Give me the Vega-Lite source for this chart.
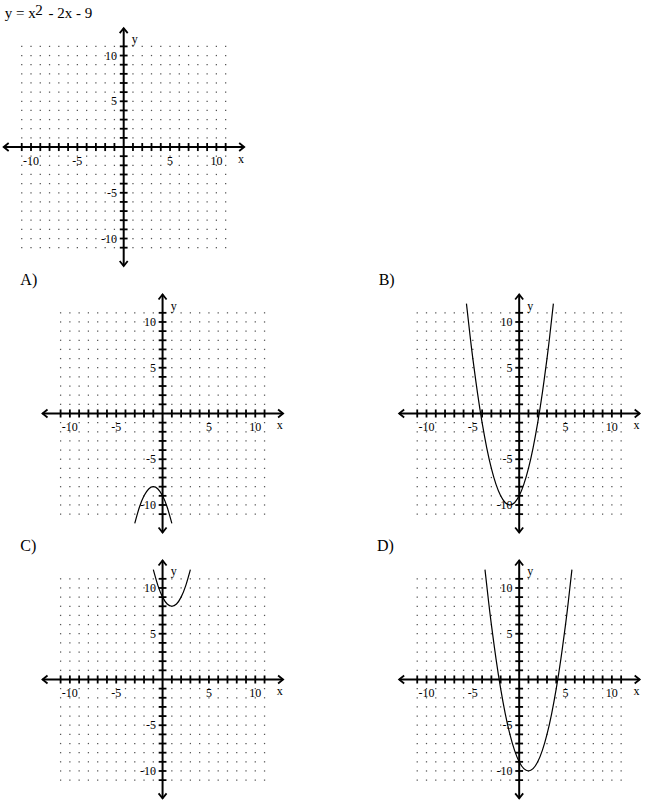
{
  "$schema": "https://vega.github.io/schema/vega-lite/v6.json",
  "background": "white",
  "padding": 0,
  "spacing": 0,
  "config": {
    "view": {"stroke": null},
    "axis": {"disable": true},
    "text": {"font": "Liberation Serif", "color": "black"}
  },
  "datasets": {
    "grid": [
      {"y": 11, "xs": [-11,-10,-9,-8,-7,-6,-5,-4,-3,-2,-1,0,1,2,3,4,5,6,7,8,9,10,11]},
      {"y": 10, "xs": [-11,-10,-9,-8,-7,-6,-5,-4,-3,-2,-1,0,1,2,3,4,5,6,7,8,9,10,11]},
      {"y": 9, "xs": [-11,-10,-9,-8,-7,-6,-5,-4,-3,-2,-1,0,1,2,3,4,5,6,7,8,9,10,11]},
      {"y": 8, "xs": [-11,-10,-9,-8,-7,-6,-5,-4,-3,-2,-1,0,1,2,3,4,5,6,7,8,9,10,11]},
      {"y": 7, "xs": [-11,-10,-9,-8,-7,-6,-5,-4,-3,-2,-1,0,1,2,3,4,5,6,7,8,9,10,11]},
      {"y": 6, "xs": [-11,-10,-9,-8,-7,-6,-5,-4,-3,-2,-1,0,1,2,3,4,5,6,7,8,9,10,11]},
      {"y": 5, "xs": [-11,-10,-9,-8,-7,-6,-5,-4,-3,-2,-1,0,1,2,3,4,5,6,7,8,9,10,11]},
      {"y": 4, "xs": [-11,-10,-9,-8,-7,-6,-5,-4,-3,-2,-1,0,1,2,3,4,5,6,7,8,9,10,11]},
      {"y": 3, "xs": [-11,-10,-9,-8,-7,-6,-5,-4,-3,-2,-1,0,1,2,3,4,5,6,7,8,9,10,11]},
      {"y": 2, "xs": [-11,-10,-9,-8,-7,-6,-5,-4,-3,-2,-1,0,1,2,3,4,5,6,7,8,9,10,11]},
      {"y": 1, "xs": [-11,-10,-9,-8,-7,-6,-5,-4,-3,-2,-1,0,1,2,3,4,5,6,7,8,9,10,11]},
      {"y": 0, "xs": [-11,-10,-9,-8,-7,-6,-5,-4,-3,-2,-1,0,1,2,3,4,5,6,7,8,9,10,11]},
      {"y": -1, "xs": [-11,-10,-9,-8,-7,-6,-5,-4,-3,-2,-1,0,1,2,3,4,5,6,7,8,9,10,11]},
      {"y": -2, "xs": [-11,-10,-9,-8,-7,-6,-5,-4,-3,-2,-1,0,1,2,3,4,5,6,7,8,9,10,11]},
      {"y": -3, "xs": [-11,-10,-9,-8,-7,-6,-5,-4,-3,-2,-1,0,1,2,3,4,5,6,7,8,9,10,11]},
      {"y": -4, "xs": [-11,-10,-9,-8,-7,-6,-5,-4,-3,-2,-1,0,1,2,3,4,5,6,7,8,9,10,11]},
      {"y": -5, "xs": [-11,-10,-9,-8,-7,-6,-5,-4,-3,-2,-1,0,1,2,3,4,5,6,7,8,9,10,11]},
      {"y": -6, "xs": [-11,-10,-9,-8,-7,-6,-5,-4,-3,-2,-1,0,1,2,3,4,5,6,7,8,9,10,11]},
      {"y": -7, "xs": [-11,-10,-9,-8,-7,-6,-5,-4,-3,-2,-1,0,1,2,3,4,5,6,7,8,9,10,11]},
      {"y": -8, "xs": [-11,-10,-9,-8,-7,-6,-5,-4,-3,-2,-1,0,1,2,3,4,5,6,7,8,9,10,11]},
      {"y": -9, "xs": [-11,-10,-9,-8,-7,-6,-5,-4,-3,-2,-1,0,1,2,3,4,5,6,7,8,9,10,11]},
      {"y": -10, "xs": [-11,-10,-9,-8,-7,-6,-5,-4,-3,-2,-1,0,1,2,3,4,5,6,7,8,9,10,11]},
      {"y": -11, "xs": [-11,-10,-9,-8,-7,-6,-5,-4,-3,-2,-1,0,1,2,3,4,5,6,7,8,9,10,11]}
    ],
    "ticks": [
      {"t": -11}, {"t": -10}, {"t": -9}, {"t": -8}, {"t": -7}, {"t": -6}, {"t": -5}, {"t": -4}, {"t": -3}, {"t": -2}, {"t": -1},
      {"t": 1}, {"t": 2}, {"t": 3}, {"t": 4}, {"t": 5}, {"t": 6}, {"t": 7}, {"t": 8}, {"t": 9}, {"t": 10}, {"t": 11}
    ],
    "axes": [
      {"x": -12.95, "x2": 13, "y": 0, "y2": 0},
      {"x": 0, "x2": 0, "y": -13, "y2": 13}
    ],
    "arrows": [
      {"x": 13, "y": 0, "dir": "right"},
      {"x": -12.95, "y": 0, "dir": "left"},
      {"x": 0, "y": 13, "dir": "up"},
      {"x": 0, "y": -13, "dir": "down"}
    ],
    "labels": [
      {"v": -10, "lab": "-10"}, {"v": -5, "lab": "-5"}, {"v": 5, "lab": "5"}, {"v": 10, "lab": "10"}
    ],
    "names": [
      {"x": 12.65, "y": -1.3, "lab": "x"},
      {"x": 1.2, "y": 11.8, "lab": "y"}
    ],
    "title": [
      {"x": -12.84, "y": 14.07, "lab": "y = x"},
      {"x": -9.54, "y": 14.43, "lab": "2"},
      {"x": -8.1, "y": 14.07, "lab": "- 2x - 9"}
    ],
    "letters": [
      {"p": "A", "x": -15.34, "y": 14.05, "lab": "A)"},
      {"p": "B", "x": -15.16, "y": 14.05, "lab": "B)"},
      {"p": "C", "x": -15.34, "y": 14.05, "lab": "C)"},
      {"p": "D", "x": -15.34, "y": 14.05, "lab": "D)"}
    ],
    "curves": [
      {"p": "A", "x": -3, "y": -12}, {"p": "A", "x": -2.5, "y": -10.25}, {"p": "A", "x": -2, "y": -9},
      {"p": "A", "x": -1.5, "y": -8.25}, {"p": "A", "x": -1, "y": -8}, {"p": "A", "x": -0.5, "y": -8.25},
      {"p": "A", "x": 0, "y": -9}, {"p": "A", "x": 0.5, "y": -10.25}, {"p": "A", "x": 1, "y": -12},
      {"p": "B", "x": -5.69, "y": 12}, {"p": "B", "x": -5.3, "y": 8.49}, {"p": "B", "x": -5, "y": 6},
      {"p": "B", "x": -4.5, "y": 2.25}, {"p": "B", "x": -4, "y": -1}, {"p": "B", "x": -3.5, "y": -3.75},
      {"p": "B", "x": -3, "y": -6}, {"p": "B", "x": -2.5, "y": -7.75}, {"p": "B", "x": -2, "y": -9},
      {"p": "B", "x": -1.5, "y": -9.75}, {"p": "B", "x": -1, "y": -10}, {"p": "B", "x": -0.5, "y": -9.75},
      {"p": "B", "x": 0, "y": -9}, {"p": "B", "x": 0.5, "y": -7.75}, {"p": "B", "x": 1, "y": -6},
      {"p": "B", "x": 1.5, "y": -3.75}, {"p": "B", "x": 2, "y": -1}, {"p": "B", "x": 2.5, "y": 2.25},
      {"p": "B", "x": 3, "y": 6}, {"p": "B", "x": 3.3, "y": 8.49}, {"p": "B", "x": 3.69, "y": 12},
      {"p": "C", "x": -1, "y": 12}, {"p": "C", "x": -0.5, "y": 10.25}, {"p": "C", "x": 0, "y": 9},
      {"p": "C", "x": 0.5, "y": 8.25}, {"p": "C", "x": 1, "y": 8}, {"p": "C", "x": 1.5, "y": 8.25},
      {"p": "C", "x": 2, "y": 9}, {"p": "C", "x": 2.5, "y": 10.25}, {"p": "C", "x": 3, "y": 12},
      {"p": "D", "x": -3.69, "y": 12}, {"p": "D", "x": -3.3, "y": 8.49}, {"p": "D", "x": -3, "y": 6},
      {"p": "D", "x": -2.5, "y": 2.25}, {"p": "D", "x": -2, "y": -1}, {"p": "D", "x": -1.5, "y": -3.75},
      {"p": "D", "x": -1, "y": -6}, {"p": "D", "x": -0.5, "y": -7.75}, {"p": "D", "x": 0, "y": -9},
      {"p": "D", "x": 0.5, "y": -9.75}, {"p": "D", "x": 1, "y": -10}, {"p": "D", "x": 1.5, "y": -9.75},
      {"p": "D", "x": 2, "y": -9}, {"p": "D", "x": 2.5, "y": -7.75}, {"p": "D", "x": 3, "y": -6},
      {"p": "D", "x": 3.5, "y": -3.75}, {"p": "D", "x": 4, "y": -1}, {"p": "D", "x": 4.5, "y": 2.25},
      {"p": "D", "x": 5, "y": 6}, {"p": "D", "x": 5.3, "y": 8.49}, {"p": "D", "x": 5.69, "y": 12}
    ]
  },
  "resolve": {"scale": {"x": "independent", "y": "independent"}},
  "vconcat": [
    {
      "width": 370,
      "height": 270,
      "layer": [
        {"data": {"name": "grid"}, "transform": [{"flatten": ["xs"]}],
         "mark": {"type": "square", "size": 1.6, "color": "#555", "opacity": 1},
         "encoding": {
           "x": {"field": "xs", "type": "quantitative", "scale": {"domain": [-13.13, 26.79], "nice": false, "zero": false}},
           "y": {"field": "y", "type": "quantitative", "scale": {"domain": [-13.44, 16.07], "nice": false, "zero": false}}}},
        {"data": {"name": "axes"}, "mark": {"type": "rule", "color": "black", "strokeWidth": 2},
         "encoding": {"x": {"field": "x", "type": "quantitative"}, "x2": {"field": "x2"}, "y": {"field": "y", "type": "quantitative"}, "y2": {"field": "y2"}}},
        {"data": {"name": "ticks"}, "mark": {"type": "rule", "color": "black", "strokeWidth": 1.8},
         "encoding": {"x": {"field": "t", "type": "quantitative"}, "y": {"datum": -0.44}, "y2": {"datum": 0.44}}},
        {"data": {"name": "ticks"}, "mark": {"type": "rule", "color": "black", "strokeWidth": 1.8},
         "encoding": {"y": {"field": "t", "type": "quantitative"}, "x": {"datum": -0.42}, "x2": {"datum": 0.42}}},
        {"data": {"name": "arrows"}, "mark": {"type": "point", "filled": false, "size": 64, "strokeWidth": 1.8, "color": "black", "opacity": 1},
         "encoding": {"x": {"field": "x", "type": "quantitative"}, "y": {"field": "y", "type": "quantitative"},
           "shape": {"field": "dir", "type": "nominal", "legend": null, "scale": {"domain": ["right", "left", "up", "down"], "range": ["M-1.25,-1L0,0L-1.25,1", "M1.25,-1L0,0L1.25,1", "M-1,1.25L0,0L1,1.25", "M-1,-1.25L0,0L1,-1.25"]}}}},
        {"data": {"name": "labels"}, "mark": {"type": "text", "fontSize": 12, "color": "black", "align": "center", "baseline": "middle"},
         "encoding": {"x": {"field": "v", "type": "quantitative"}, "y": {"datum": -1.5}, "text": {"field": "lab", "type": "nominal"}}},
        {"data": {"name": "labels"}, "mark": {"type": "text", "fontSize": 12, "color": "black", "align": "right", "baseline": "middle"},
         "encoding": {"y": {"field": "v", "type": "quantitative"}, "x": {"datum": -0.72}, "text": {"field": "lab", "type": "nominal"}}},
        {"data": {"name": "names"}, "mark": {"type": "text", "fontSize": 12, "color": "black", "align": "center", "baseline": "middle"},
         "encoding": {"x": {"field": "x", "type": "quantitative"}, "y": {"field": "y", "type": "quantitative"}, "text": {"field": "lab", "type": "nominal"}}},
        {"data": {"name": "title"}, "mark": {"type": "text", "fontSize": 15, "color": "black", "align": "left", "baseline": "alphabetic"},
         "encoding": {"x": {"field": "x", "type": "quantitative"}, "y": {"field": "y", "type": "quantitative"}, "text": {"field": "lab", "type": "nominal"}}}
      ]
    },
    {
      "hconcat": [
        {
          "width": 370,
          "height": 265,
          "layer": [
            {"data": {"name": "grid"}, "transform": [{"flatten": ["xs"]}],
             "mark": {"type": "square", "size": 1.6, "color": "#555", "opacity": 1},
             "encoding": {
               "x": {"field": "xs", "type": "quantitative", "scale": {"domain": [-17.32, 22.59], "nice": false, "zero": false}},
               "y": {"field": "y", "type": "quantitative", "scale": {"domain": [-13.28, 15.68], "nice": false, "zero": false}}}},
            {"data": {"name": "curves"}, "transform": [{"filter": "datum.p == 'A'"}],
             "mark": {"type": "line", "interpolate": "natural", "color": "black", "strokeWidth": 1.2},
             "encoding": {"x": {"field": "x", "type": "quantitative"}, "y": {"field": "y", "type": "quantitative"}}},
            {"data": {"name": "axes"}, "mark": {"type": "rule", "color": "black", "strokeWidth": 2},
             "encoding": {"x": {"field": "x", "type": "quantitative"}, "x2": {"field": "x2"}, "y": {"field": "y", "type": "quantitative"}, "y2": {"field": "y2"}}},
            {"data": {"name": "ticks"}, "mark": {"type": "rule", "color": "black", "strokeWidth": 1.8},
             "encoding": {"x": {"field": "t", "type": "quantitative"}, "y": {"datum": -0.44}, "y2": {"datum": 0.44}}},
            {"data": {"name": "ticks"}, "mark": {"type": "rule", "color": "black", "strokeWidth": 1.8},
             "encoding": {"y": {"field": "t", "type": "quantitative"}, "x": {"datum": -0.42}, "x2": {"datum": 0.42}}},
            {"data": {"name": "arrows"}, "mark": {"type": "point", "filled": false, "size": 64, "strokeWidth": 1.8, "color": "black", "opacity": 1},
             "encoding": {"x": {"field": "x", "type": "quantitative"}, "y": {"field": "y", "type": "quantitative"},
               "shape": {"field": "dir", "type": "nominal", "legend": null, "scale": {"domain": ["right", "left", "up", "down"], "range": ["M-1.25,-1L0,0L-1.25,1", "M1.25,-1L0,0L1.25,1", "M-1,1.25L0,0L1,1.25", "M-1,-1.25L0,0L1,-1.25"]}}}},
            {"data": {"name": "labels"}, "mark": {"type": "text", "fontSize": 12, "color": "black", "align": "center", "baseline": "middle"},
             "encoding": {"x": {"field": "v", "type": "quantitative"}, "y": {"datum": -1.5}, "text": {"field": "lab", "type": "nominal"}}},
            {"data": {"name": "labels"}, "mark": {"type": "text", "fontSize": 12, "color": "black", "align": "right", "baseline": "middle"},
             "encoding": {"y": {"field": "v", "type": "quantitative"}, "x": {"datum": -0.72}, "text": {"field": "lab", "type": "nominal"}}},
            {"data": {"name": "names"}, "mark": {"type": "text", "fontSize": 12, "color": "black", "align": "center", "baseline": "middle"},
             "encoding": {"x": {"field": "x", "type": "quantitative"}, "y": {"field": "y", "type": "quantitative"}, "text": {"field": "lab", "type": "nominal"}}},
            {"data": {"name": "letters"}, "transform": [{"filter": "datum.p == 'A'"}], "mark": {"type": "text", "fontSize": 16, "color": "black", "align": "left", "baseline": "alphabetic"},
             "encoding": {"x": {"field": "x", "type": "quantitative"}, "y": {"field": "y", "type": "quantitative"}, "text": {"field": "lab", "type": "nominal"}}}
          ]
        },
        {
          "width": 280,
          "height": 265,
          "layer": [
            {"data": {"name": "grid"}, "transform": [{"flatten": ["xs"]}],
             "mark": {"type": "square", "size": 1.6, "color": "#555", "opacity": 1},
             "encoding": {
               "x": {"field": "xs", "type": "quantitative", "scale": {"domain": [-15.88, 14.33], "nice": false, "zero": false}},
               "y": {"field": "y", "type": "quantitative", "scale": {"domain": [-13.28, 15.68], "nice": false, "zero": false}}}},
            {"data": {"name": "curves"}, "transform": [{"filter": "datum.p == 'B'"}],
             "mark": {"type": "line", "interpolate": "natural", "color": "black", "strokeWidth": 1.2},
             "encoding": {"x": {"field": "x", "type": "quantitative"}, "y": {"field": "y", "type": "quantitative"}}},
            {"data": {"name": "axes"}, "mark": {"type": "rule", "color": "black", "strokeWidth": 2},
             "encoding": {"x": {"field": "x", "type": "quantitative"}, "x2": {"field": "x2"}, "y": {"field": "y", "type": "quantitative"}, "y2": {"field": "y2"}}},
            {"data": {"name": "ticks"}, "mark": {"type": "rule", "color": "black", "strokeWidth": 1.8},
             "encoding": {"x": {"field": "t", "type": "quantitative"}, "y": {"datum": -0.44}, "y2": {"datum": 0.44}}},
            {"data": {"name": "ticks"}, "mark": {"type": "rule", "color": "black", "strokeWidth": 1.8},
             "encoding": {"y": {"field": "t", "type": "quantitative"}, "x": {"datum": -0.42}, "x2": {"datum": 0.42}}},
            {"data": {"name": "arrows"}, "mark": {"type": "point", "filled": false, "size": 64, "strokeWidth": 1.8, "color": "black", "opacity": 1},
             "encoding": {"x": {"field": "x", "type": "quantitative"}, "y": {"field": "y", "type": "quantitative"},
               "shape": {"field": "dir", "type": "nominal", "legend": null, "scale": {"domain": ["right", "left", "up", "down"], "range": ["M-1.25,-1L0,0L-1.25,1", "M1.25,-1L0,0L1.25,1", "M-1,1.25L0,0L1,1.25", "M-1,-1.25L0,0L1,-1.25"]}}}},
            {"data": {"name": "labels"}, "mark": {"type": "text", "fontSize": 12, "color": "black", "align": "center", "baseline": "middle"},
             "encoding": {"x": {"field": "v", "type": "quantitative"}, "y": {"datum": -1.5}, "text": {"field": "lab", "type": "nominal"}}},
            {"data": {"name": "labels"}, "mark": {"type": "text", "fontSize": 12, "color": "black", "align": "right", "baseline": "middle"},
             "encoding": {"y": {"field": "v", "type": "quantitative"}, "x": {"datum": -0.72}, "text": {"field": "lab", "type": "nominal"}}},
            {"data": {"name": "names"}, "mark": {"type": "text", "fontSize": 12, "color": "black", "align": "center", "baseline": "middle"},
             "encoding": {"x": {"field": "x", "type": "quantitative"}, "y": {"field": "y", "type": "quantitative"}, "text": {"field": "lab", "type": "nominal"}}},
            {"data": {"name": "letters"}, "transform": [{"filter": "datum.p == 'B'"}], "mark": {"type": "text", "fontSize": 16, "color": "black", "align": "left", "baseline": "alphabetic"},
             "encoding": {"x": {"field": "x", "type": "quantitative"}, "y": {"field": "y", "type": "quantitative"}, "text": {"field": "lab", "type": "nominal"}}}
          ]
        }
      ],
      "spacing": 0,
      "resolve": {"scale": {"x": "independent", "y": "independent"}}
    },
    {
      "hconcat": [
        {
          "width": 370,
          "height": 265,
          "layer": [
            {"data": {"name": "grid"}, "transform": [{"flatten": ["xs"]}],
             "mark": {"type": "square", "size": 1.6, "color": "#555", "opacity": 1},
             "encoding": {
               "x": {"field": "xs", "type": "quantitative", "scale": {"domain": [-17.32, 22.59], "nice": false, "zero": false}},
               "y": {"field": "y", "type": "quantitative", "scale": {"domain": [-13.39, 15.57], "nice": false, "zero": false}}}},
            {"data": {"name": "curves"}, "transform": [{"filter": "datum.p == 'C'"}],
             "mark": {"type": "line", "interpolate": "natural", "color": "black", "strokeWidth": 1.2},
             "encoding": {"x": {"field": "x", "type": "quantitative"}, "y": {"field": "y", "type": "quantitative"}}},
            {"data": {"name": "axes"}, "mark": {"type": "rule", "color": "black", "strokeWidth": 2},
             "encoding": {"x": {"field": "x", "type": "quantitative"}, "x2": {"field": "x2"}, "y": {"field": "y", "type": "quantitative"}, "y2": {"field": "y2"}}},
            {"data": {"name": "ticks"}, "mark": {"type": "rule", "color": "black", "strokeWidth": 1.8},
             "encoding": {"x": {"field": "t", "type": "quantitative"}, "y": {"datum": -0.44}, "y2": {"datum": 0.44}}},
            {"data": {"name": "ticks"}, "mark": {"type": "rule", "color": "black", "strokeWidth": 1.8},
             "encoding": {"y": {"field": "t", "type": "quantitative"}, "x": {"datum": -0.42}, "x2": {"datum": 0.42}}},
            {"data": {"name": "arrows"}, "mark": {"type": "point", "filled": false, "size": 64, "strokeWidth": 1.8, "color": "black", "opacity": 1},
             "encoding": {"x": {"field": "x", "type": "quantitative"}, "y": {"field": "y", "type": "quantitative"},
               "shape": {"field": "dir", "type": "nominal", "legend": null, "scale": {"domain": ["right", "left", "up", "down"], "range": ["M-1.25,-1L0,0L-1.25,1", "M1.25,-1L0,0L1.25,1", "M-1,1.25L0,0L1,1.25", "M-1,-1.25L0,0L1,-1.25"]}}}},
            {"data": {"name": "labels"}, "mark": {"type": "text", "fontSize": 12, "color": "black", "align": "center", "baseline": "middle"},
             "encoding": {"x": {"field": "v", "type": "quantitative"}, "y": {"datum": -1.5}, "text": {"field": "lab", "type": "nominal"}}},
            {"data": {"name": "labels"}, "mark": {"type": "text", "fontSize": 12, "color": "black", "align": "right", "baseline": "middle"},
             "encoding": {"y": {"field": "v", "type": "quantitative"}, "x": {"datum": -0.72}, "text": {"field": "lab", "type": "nominal"}}},
            {"data": {"name": "names"}, "mark": {"type": "text", "fontSize": 12, "color": "black", "align": "center", "baseline": "middle"},
             "encoding": {"x": {"field": "x", "type": "quantitative"}, "y": {"field": "y", "type": "quantitative"}, "text": {"field": "lab", "type": "nominal"}}},
            {"data": {"name": "letters"}, "transform": [{"filter": "datum.p == 'C'"}], "mark": {"type": "text", "fontSize": 16, "color": "black", "align": "left", "baseline": "alphabetic"},
             "encoding": {"x": {"field": "x", "type": "quantitative"}, "y": {"field": "y", "type": "quantitative"}, "text": {"field": "lab", "type": "nominal"}}}
          ]
        },
        {
          "width": 280,
          "height": 265,
          "layer": [
            {"data": {"name": "grid"}, "transform": [{"flatten": ["xs"]}],
             "mark": {"type": "square", "size": 1.6, "color": "#555", "opacity": 1},
             "encoding": {
               "x": {"field": "xs", "type": "quantitative", "scale": {"domain": [-15.88, 14.33], "nice": false, "zero": false}},
               "y": {"field": "y", "type": "quantitative", "scale": {"domain": [-13.39, 15.57], "nice": false, "zero": false}}}},
            {"data": {"name": "curves"}, "transform": [{"filter": "datum.p == 'D'"}],
             "mark": {"type": "line", "interpolate": "natural", "color": "black", "strokeWidth": 1.2},
             "encoding": {"x": {"field": "x", "type": "quantitative"}, "y": {"field": "y", "type": "quantitative"}}},
            {"data": {"name": "axes"}, "mark": {"type": "rule", "color": "black", "strokeWidth": 2},
             "encoding": {"x": {"field": "x", "type": "quantitative"}, "x2": {"field": "x2"}, "y": {"field": "y", "type": "quantitative"}, "y2": {"field": "y2"}}},
            {"data": {"name": "ticks"}, "mark": {"type": "rule", "color": "black", "strokeWidth": 1.8},
             "encoding": {"x": {"field": "t", "type": "quantitative"}, "y": {"datum": -0.44}, "y2": {"datum": 0.44}}},
            {"data": {"name": "ticks"}, "mark": {"type": "rule", "color": "black", "strokeWidth": 1.8},
             "encoding": {"y": {"field": "t", "type": "quantitative"}, "x": {"datum": -0.42}, "x2": {"datum": 0.42}}},
            {"data": {"name": "arrows"}, "mark": {"type": "point", "filled": false, "size": 64, "strokeWidth": 1.8, "color": "black", "opacity": 1},
             "encoding": {"x": {"field": "x", "type": "quantitative"}, "y": {"field": "y", "type": "quantitative"},
               "shape": {"field": "dir", "type": "nominal", "legend": null, "scale": {"domain": ["right", "left", "up", "down"], "range": ["M-1.25,-1L0,0L-1.25,1", "M1.25,-1L0,0L1.25,1", "M-1,1.25L0,0L1,1.25", "M-1,-1.25L0,0L1,-1.25"]}}}},
            {"data": {"name": "labels"}, "mark": {"type": "text", "fontSize": 12, "color": "black", "align": "center", "baseline": "middle"},
             "encoding": {"x": {"field": "v", "type": "quantitative"}, "y": {"datum": -1.5}, "text": {"field": "lab", "type": "nominal"}}},
            {"data": {"name": "labels"}, "mark": {"type": "text", "fontSize": 12, "color": "black", "align": "right", "baseline": "middle"},
             "encoding": {"y": {"field": "v", "type": "quantitative"}, "x": {"datum": -0.72}, "text": {"field": "lab", "type": "nominal"}}},
            {"data": {"name": "names"}, "mark": {"type": "text", "fontSize": 12, "color": "black", "align": "center", "baseline": "middle"},
             "encoding": {"x": {"field": "x", "type": "quantitative"}, "y": {"field": "y", "type": "quantitative"}, "text": {"field": "lab", "type": "nominal"}}},
            {"data": {"name": "letters"}, "transform": [{"filter": "datum.p == 'D'"}], "mark": {"type": "text", "fontSize": 16, "color": "black", "align": "left", "baseline": "alphabetic"},
             "encoding": {"x": {"field": "x", "type": "quantitative"}, "y": {"field": "y", "type": "quantitative"}, "text": {"field": "lab", "type": "nominal"}}}
          ]
        }
      ],
      "spacing": 0,
      "resolve": {"scale": {"x": "independent", "y": "independent"}}
    }
  ]
}
